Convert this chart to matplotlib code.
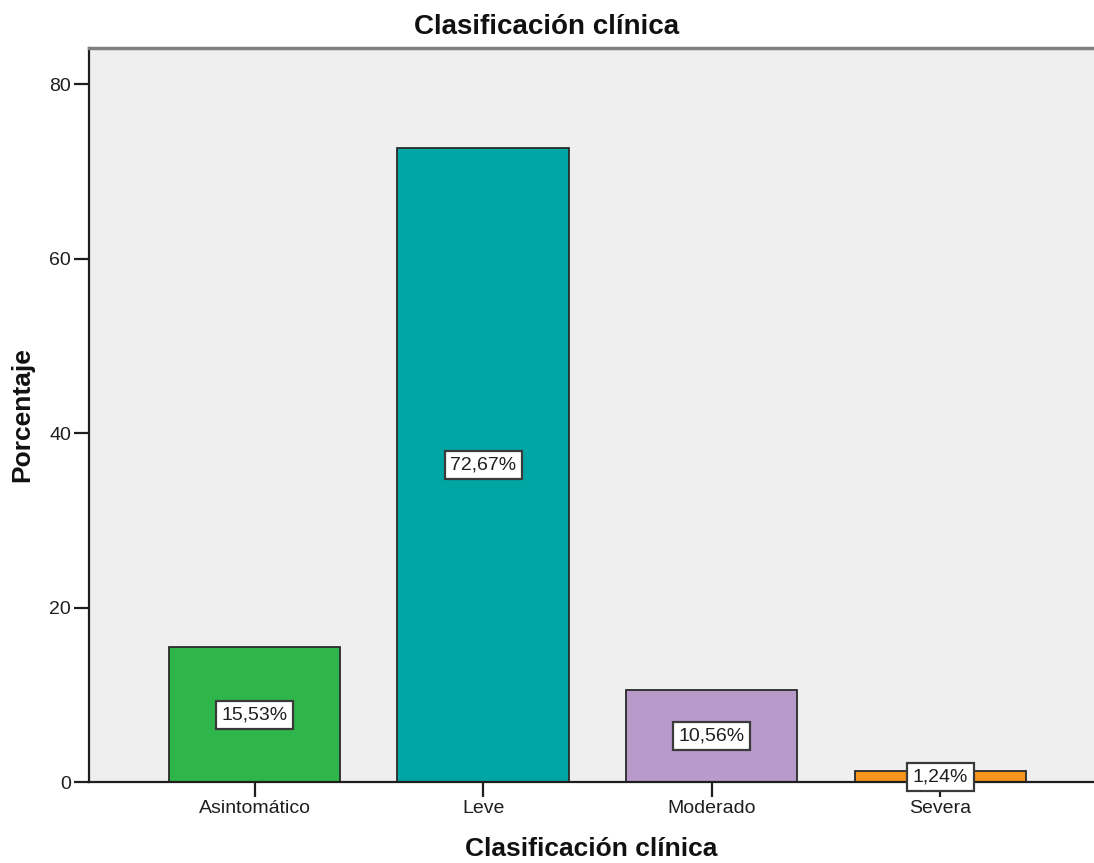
import matplotlib
matplotlib.use("Agg")
import matplotlib.pyplot as plt

categories = ["Asintomático", "Leve", "Moderado", "Severa"]
percentages = [15.53, 72.67, 10.56, 1.24]
bar_colors = ["#2fb64a", "#00a6a3", "#b89bcb", "#f7961e"]
y_ticks = [0, 20, 40, 60, 80]

plt.rcParams["font.family"] = ["Liberation Sans", "DejaVu Sans"]

fig = plt.figure(figsize=(10.94, 8.63), dpi=100)
ax = fig.add_axes([0.0814, 0.0935, 0.9186, 0.8512])
ax.set_facecolor("#efefef")

x = list(range(len(categories)))
bars = ax.bar(x, percentages, width=0.75, color=bar_colors,
              edgecolor="#2a2a2a", linewidth=1.3, zorder=2)

for xi, val in zip(x, percentages):
    label = f"{val:.2f}%".replace(".", ",")
    ax.text(xi, val / 2, label, ha="center", va="center", fontsize=14,
            color="#1e1e1e", zorder=4,
            bbox=dict(boxstyle="square,pad=0.28", facecolor="white",
                      edgecolor="#3a3a3a", linewidth=1.6))

ax.set_xlim(-0.724, 3.672)
ax.set_ylim(0, 84.2)
ax.set_xticks(x)
ax.set_xticklabels(categories)
ax.set_yticks(y_ticks)

ax.tick_params(axis="both", labelsize=14, colors="#1e1e1e",
               length=11, width=1.6, direction="out", pad=2)

for side in ("left", "bottom"):
    ax.spines[side].set_color("#1e1e1e")
    ax.spines[side].set_linewidth(1.6)
ax.spines["top"].set_color("#808080")
ax.spines["top"].set_linewidth(2.5)
ax.spines["right"].set_visible(False)

fig.text(0.5, 1 - 27 / 863, "Clasificación clínica", ha="center",
         va="center", fontsize=20, fontweight="bold", color="#111111")
fig.text(0.5407, 1 - 849 / 863, "Clasificación clínica", ha="center",
         va="center", fontsize=19, fontweight="bold", color="#111111")
fig.text(22 / 1094, 1 - 415 / 863, "Porcentaje", ha="center",
         va="center", rotation=90, fontsize=19, fontweight="bold",
         color="#111111")

fig.savefig("out.png", dpi=100)
